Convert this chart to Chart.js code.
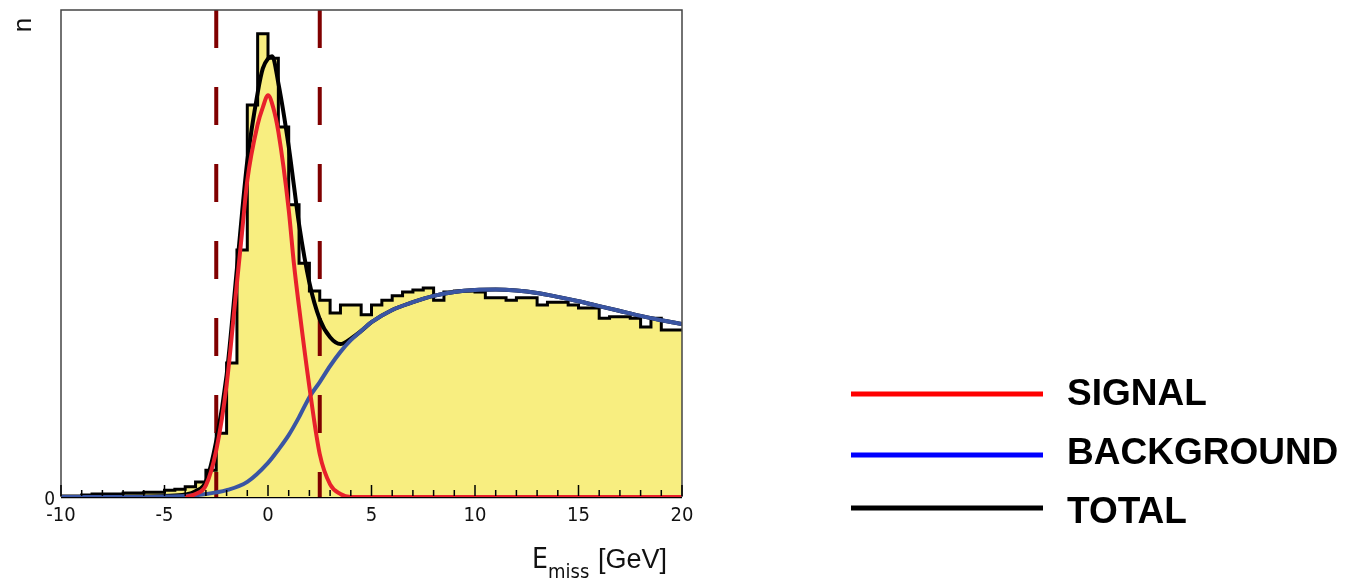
<!DOCTYPE html>
<html>
<head>
<meta charset="utf-8">
<script src="https://cdn.jsdelivr.net/npm/chart.js@4/dist/chart.umd.min.js"></script>
<style>
  html, body { margin: 0; padding: 0; background: #fff; }
  #wrap { width: 1354px; height: 582px; }
</style>
</head>
<body>
<div id="wrap"><canvas id="chart" width="1354" height="582"></canvas></div>
<script>
// histogram: 0.5 GeV bins from -10 to 20
const binStart = -10;
const binWidth = 0.5;
const histCounts = [
  2, 2, 4, 6, 6, 6, 8, 8, 10, 10,
  14, 16, 21, 31, 55, 131, 275, 507, 805, 951,
  901, 760, 600, 480, 423, 404, 378, 394, 394, 374,
  394, 404, 413, 421, 425, 429, 404, 421, 423, 423,
  421, 409, 409, 404, 409, 409, 394, 400, 400, 394,
  388, 388, 367, 370, 370, 367, 349, 367, 343, 343
];

// fitted curves
const signalX = [-4, -3.5, -3, -2.5, -2, -1.5, -1.25, -1, -0.5, -0.25, 0, 0.25, 0.5, 1, 1.25, 1.5, 2, 2.5, 3, 3.5, 4, 20];
const signalY = [0, 6, 24, 96, 230, 440, 545, 650, 765, 800, 825, 800, 750, 590, 480, 390, 226, 88, 26, 6, 0, 0];

const backgroundX = [-10, -6, -5, -4, -3, -2, -1, 0, 0.5, 1, 1.5, 2, 2.5, 3, 3.5, 4, 4.5, 5, 6, 7, 8, 9, 10, 11, 12, 13, 14, 15, 16, 17, 18, 19, 20];
const backgroundY = [0, 0, 1, 2, 6, 14, 31, 70, 97, 127, 164, 205, 236, 269, 298, 322, 341, 359, 384, 400, 413, 421, 425, 426, 424, 419, 411, 402, 392, 382, 372, 363, 355];

const totalX = [-10, -6, -5, -4, -3.5, -3, -2.5, -2, -1.5, -1.25, -1, -0.5, -0.25, 0, 0.2, 0.5, 1, 1.25, 1.5, 2, 2.5, 3, 3.5, 4, 4.5, 5, 6, 7, 8, 9, 10, 11, 12, 13, 14, 15, 16, 17, 18, 19, 20];
const totalY = [0, 1, 2, 5, 12, 32, 115, 250, 470, 585, 690, 830, 880, 900, 905, 850, 720, 640, 560, 440, 365, 328, 314, 325, 341, 359, 384, 400, 413, 421, 425, 426, 424, 419, 411, 402, 392, 382, 372, 363, 355];

// signal window cuts
const cutLines = [-2.5, 2.5];

const xTickLabels = ["-10", "-5", "0", "5", "10", "15", "20"];
const legendItems = [
  { label: "SIGNAL", color: "#ff0000" },
  { label: "BACKGROUND", color: "#0000ff" },
  { label: "TOTAL", color: "#000000" }
];

const NARROW = "'Liberation Sans Narrow', 'DejaVu Sans Condensed', sans-serif";
const SANS = "'Liberation Sans', Arial, sans-serif";

const histPoints = [{ x: binStart, y: histCounts[0] }].concat(
  histCounts.map((c, i) => ({ x: binStart + (i + 1) * binWidth, y: c }))
);

const toPoints = (xs, ys) => xs.map((x, i) => ({ x, y: ys[i] }));

const curve = (label, xs, ys, color, order) => ({
  label,
  data: toPoints(xs, ys),
  borderColor: color,
  borderWidth: 4,
  pointRadius: 0,
  cubicInterpolationMode: "monotone",
  fill: false,
  order
});

const datasets = [
  curve("Signal", signalX, signalY, "#e8212b", 1),
  curve("Background", backgroundX, backgroundY, "#3a55a3", 2),
  curve("Total", totalX, totalY, "#000000", 3),
  ...cutLines.map((v) => ({
    label: "cut",
    data: [{ x: v, y: 1000 }, { x: v, y: 0 }],
    borderColor: "#800000",
    borderWidth: 4,
    borderDash: [38, 39],
    pointRadius: 0,
    fill: false,
    order: 4
  })),
  {
    label: "Data",
    data: histPoints,
    stepped: "after",
    borderColor: "#000",
    borderWidth: 3,
    backgroundColor: "rgb(248, 238, 128)",
    fill: "origin",
    pointRadius: 0,
    order: 5
  }
];

const decorations = {
  id: "decorations",
  beforeDatasetsDraw(chart) {
    const { ctx, chartArea: a } = chart;
    ctx.save();
    ctx.strokeStyle = "#000";
    ctx.lineWidth = 2.5;
    ctx.beginPath();
    ctx.moveTo(a.left, a.bottom);
    ctx.lineTo(a.right, a.bottom);
    ctx.stroke();
    ctx.restore();
  },
  afterDatasetsDraw(chart) {
    const { ctx, chartArea: a } = chart;
    const xs = chart.scales.x;
    ctx.save();
    // frame
    ctx.strokeStyle = "#444";
    ctx.lineWidth = 1.5;
    ctx.beginPath();
    ctx.moveTo(a.left, a.bottom);
    ctx.lineTo(a.left, a.top);
    ctx.lineTo(a.right, a.top);
    ctx.lineTo(a.right, a.bottom);
    ctx.stroke();
    // inner ticks, every 1 GeV
    ctx.strokeStyle = "#000";
    ctx.lineWidth = 1.5;
    for (let v = -10; v <= 20; v++) {
      const px = xs.getPixelForValue(v);
      const len = v % 5 === 0 ? 12 : 7;
      ctx.beginPath();
      ctx.moveTo(px, a.bottom - 1);
      ctx.lineTo(px, a.bottom - len);
      ctx.stroke();
    }
    ctx.restore();
  },
  afterDraw(chart) {
    const { ctx } = chart;
    ctx.save();
    ctx.fillStyle = "#111";
    ctx.textBaseline = "alphabetic";
    ctx.textAlign = "left";
    // x axis title
    ctx.font = "28px " + NARROW;
    ctx.fillText("E", 532, 568);
    ctx.font = "20px " + NARROW;
    ctx.fillText("miss", 548, 578);
    ctx.font = "27px " + SANS;
    ctx.fillText("[GeV]", 598, 568);
    // y axis title
    ctx.save();
    ctx.translate(24, 25);
    ctx.rotate(-Math.PI / 2);
    ctx.textAlign = "center";
    ctx.textBaseline = "middle";
    ctx.font = "26px " + SANS;
    ctx.fillText("n", 0, 0);
    ctx.restore();
    // legend
    const lineRows = [394, 455, 508];
    const textRows = [394, 453, 512];
    ctx.font = "bold 37px " + SANS;
    ctx.textBaseline = "middle";
    legendItems.forEach((item, i) => {
      ctx.strokeStyle = item.color;
      ctx.lineWidth = 5;
      ctx.beginPath();
      ctx.moveTo(851, lineRows[i]);
      ctx.lineTo(1043, lineRows[i]);
      ctx.stroke();
      ctx.fillStyle = "#000";
      ctx.fillText(item.label, 1067, textRows[i] + 1);
    });
    ctx.restore();
  }
};

new Chart(document.getElementById("chart"), {
  type: "line",
  data: { datasets },
  options: {
    responsive: false,
    animation: false,
    layout: { autoPadding: false, padding: { top: 10, right: 672, left: 0, bottom: 0 } },
    plugins: {
      legend: { display: false },
      tooltip: { enabled: false }
    },
    scales: {
      x: {
        type: "linear",
        min: -10,
        max: 20,
        grid: { display: false, drawTicks: false },
        border: { display: false },
        ticks: {
          stepSize: 5,
          padding: 7,
          color: "#111",
          font: { family: NARROW, size: 20 },
          callback: (v) => xTickLabels[xTickLabels.indexOf(String(v))] ?? ""
        },
        afterFit: (s) => { s.height = 85; s.paddingLeft = 0; s.paddingRight = 0; }
      },
      y: {
        min: 0,
        max: 1000,
        grid: { display: false, drawTicks: false },
        border: { display: false },
        afterBuildTicks: (s) => { s.ticks = s.ticks.filter((t) => t.value === 0); },
        ticks: {
          stepSize: 1000,
          padding: 6,
          labelOffset: 3,
          color: "#111",
          font: { family: NARROW, size: 19 },
          callback: (v) => (v === 0 ? "0" : "")
        },
        afterFit: (s) => { s.width = 61; s.paddingTop = 0; s.paddingBottom = 0; }
      }
    }
  },
  plugins: [decorations]
});
</script>
</body>
</html>
